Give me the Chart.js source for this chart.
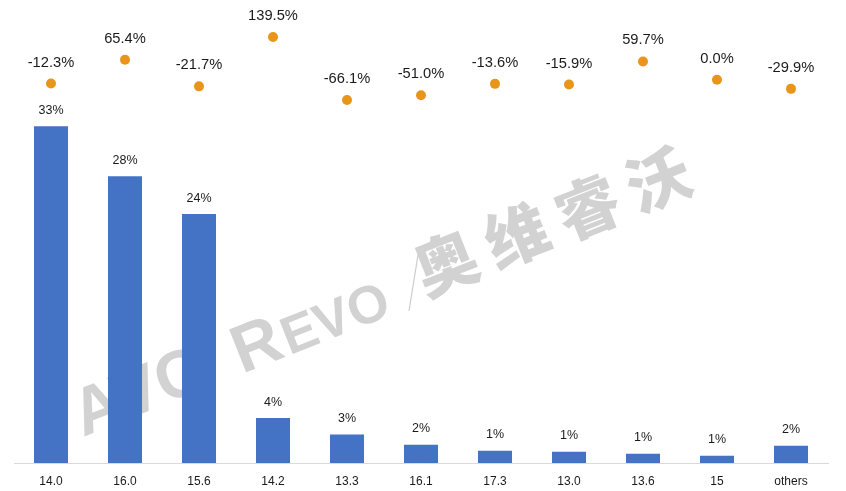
<!DOCTYPE html>
<html>
<head>
<meta charset="utf-8">
<script src="https://cdn.jsdelivr.net/npm/chart.js@4/dist/chart.umd.min.js"></script>
<style>
  html, body { margin: 0; padding: 0; background: #ffffff; }
  #wrap { width: 846px; height: 491px; }
</style>
</head>
<body>
<div id="wrap"><canvas id="c" width="846" height="491"></canvas></div>
<script>
// ---- data ----
const categories = ['14.0', '16.0', '15.6', '14.2', '13.3', '16.1', '17.3', '13.0', '13.6', '15', 'others'];
const shareValues = [33.0, 28.1, 24.4, 4.4, 2.8, 1.8, 1.2, 1.1, 0.9, 0.7, 1.7];
const shareLabels = ['33%', '28%', '24%', '4%', '3%', '2%', '1%', '1%', '1%', '1%', '2%'];
const growthValues = [-12.3, 65.4, -21.7, 139.5, -66.1, -51.0, -13.6, -15.9, 59.7, 0.0, -29.9];
const growthLabels = ['-12.3%', '65.4%', '-21.7%', '139.5%', '-66.1%', '-51.0%', '-13.6%', '-15.9%', '59.7%', '0.0%', '-29.9%'];

const FONT = '"Liberation Sans", Arial, sans-serif';

const watermark = {
  id: 'watermark',
  beforeDatasetsDraw(chart) {
    const ctx = chart.ctx;
    ctx.save();
    ctx.fillStyle = 'rgba(208,208,208,0.95)';
    ctx.translate(83, 437);
    ctx.rotate(-21.6 * Math.PI / 180);
    ctx.textBaseline = 'alphabetic';
    ctx.textAlign = 'left';
    ctx.font = 'bold 67px ' + FONT;
    ctx.fillText('AVC', 0, 0);
    ctx.fillText('R', 171, 0);
    ctx.font = 'bold 53px ' + FONT;
    ctx.fillText('EVO', 222, 0);
    ctx.font = '900 63px "Noto Sans CJK SC", sans-serif';
    const cjk = ['奥', '维', '睿', '沃'];
    cjk.forEach((ch, i) => ctx.fillText(ch, 370 + i * 76, -4));
    ctx.restore();
    ctx.save();
    ctx.strokeStyle = 'rgba(200,200,200,0.9)';
    ctx.lineWidth = 1.2;
    ctx.beginPath();
    ctx.moveTo(409, 311);
    ctx.lineTo(418, 255);
    ctx.stroke();
    ctx.restore();
  }
};

const valueLabels = {
  id: 'valueLabels',
  afterDatasetsDraw(chart) {
    const ctx = chart.ctx;
    ctx.save();
    ctx.fillStyle = '#1a1a1a';
    ctx.textAlign = 'center';
    ctx.textBaseline = 'middle';
    const barMeta = chart.getDatasetMeta(0);
    ctx.font = '12.5px ' + FONT;
    barMeta.data.forEach((el, i) => {
      ctx.fillText(shareLabels[i], el.x, el.y - 16);
    });
    const dotMeta = chart.getDatasetMeta(1);
    ctx.font = '14.7px ' + FONT;
    dotMeta.data.forEach((el, i) => {
      ctx.fillText(growthLabels[i], el.x, el.y - 21);
    });
    ctx.restore();
  }
};

new Chart(document.getElementById('c'), {
  type: 'bar',
  data: {
    labels: categories,
    datasets: [
      {
        type: 'bar',
        label: 'share',
        data: shareValues,
        backgroundColor: '#4472C4',
        yAxisID: 'y',
        categoryPercentage: 1,
        barPercentage: 0.46,
        order: 2
      },
      {
        type: 'line',
        label: 'growth',
        data: growthValues,
        showLine: false,
        pointRadius: 5,
        pointBorderWidth: 0,
        pointBackgroundColor: '#E8951A',
        pointBorderColor: '#E8951A',
        yAxisID: 'y2',
        order: 1
      }
    ]
  },
  options: {
    responsive: false,
    devicePixelRatio: 1,
    animation: false,
    layout: { padding: { top: 10, left: 14, right: 18, bottom: 0 } },
    plugins: {
      legend: { display: false },
      tooltip: { enabled: false },
      title: { display: false }
    },
    scales: {
      x: {
        grid: { display: false, drawTicks: false },
        border: { display: true, color: '#d9d9d9', width: 1 },
        ticks: { color: '#1a1a1a', font: { family: FONT, size: 12 }, padding: 11, maxRotation: 0 },
        afterFit(scale) { scale.height = 28; }
      },
      y: { display: false, min: 0, max: 44.4 },
      y2: { display: false, min: -1251, max: 227.5 }
    }
  },
  plugins: [watermark, valueLabels]
});
</script>
</body>
</html>
